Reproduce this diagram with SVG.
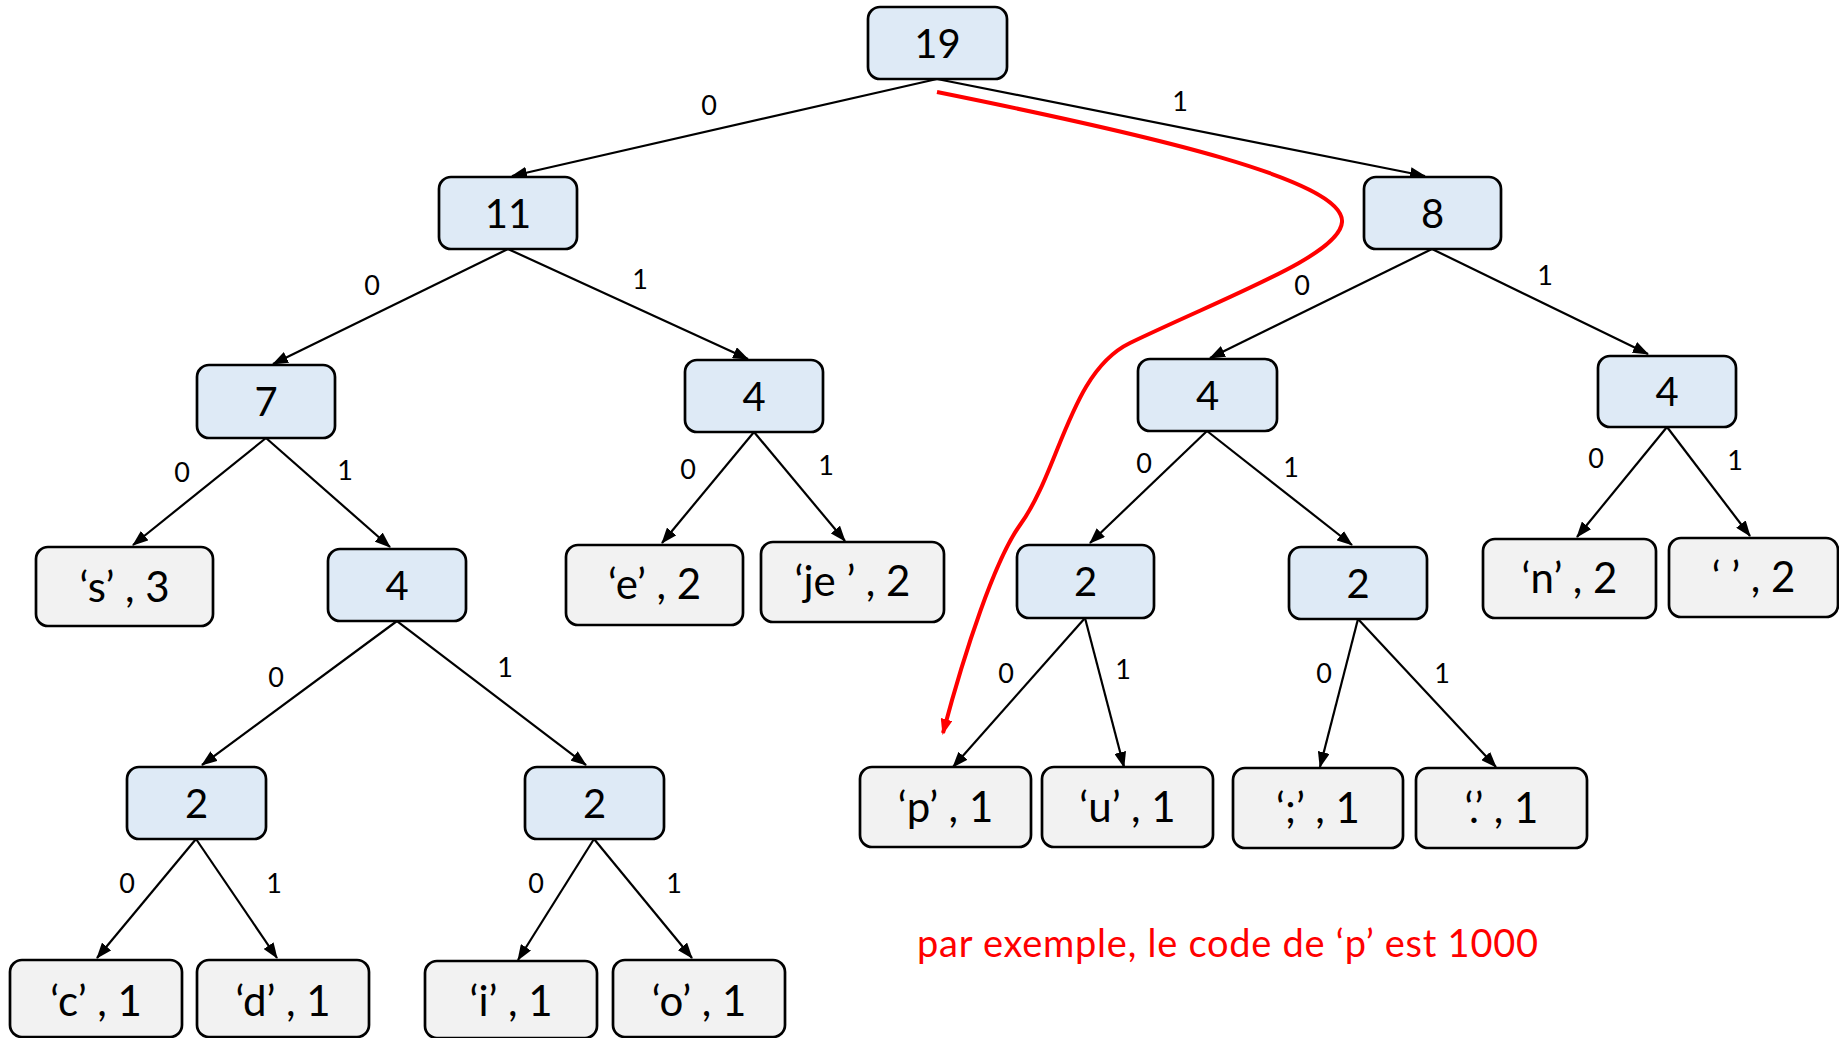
<svg xmlns="http://www.w3.org/2000/svg" width="1839" height="1038" viewBox="0 0 1839 1038">
<style>
.n rect{fill:#DEEAF6;stroke:#000;stroke-width:2.7}
.l rect{fill:#F2F2F2;stroke:#000;stroke-width:2.7}
.n text,.l text{font-family:Lato,"Open Sans",sans-serif;font-size:40px;fill:#000;text-anchor:middle}
.l text{font-size:42px}
.e line{stroke:#000;stroke-width:2.2;marker-end:url(#ah)}
.e text{font-family:Lato,"Open Sans",sans-serif;font-size:27px;fill:#000;text-anchor:middle}
.red{fill:none;stroke:#FF0000;stroke-width:4;marker-end:url(#rh)}
.note{font-family:Lato,"Open Sans",sans-serif;font-size:38px;fill:#FF0000}
</style>
<defs>
<marker id="ah" markerWidth="16" markerHeight="12" refX="15" refY="6" orient="auto" markerUnits="userSpaceOnUse"><path d="M0,0 L16,6 L0,12 z" fill="#000"/></marker>
<marker id="rh" markerWidth="16" markerHeight="12" refX="14" refY="6" orient="auto" markerUnits="userSpaceOnUse"><path d="M0,0 L16,6 L0,12 z" fill="#FF0000"/></marker>
</defs>
<rect width="1839" height="1038" fill="#fff"/>
<g id="connectors" class="e">
<line x1="937" y1="79" x2="512" y2="176"/><text x="709" y="115">0</text>
<line x1="937" y1="79" x2="1425" y2="176"/><text x="1180" y="111">1</text>
<line x1="508" y1="249" x2="273" y2="364"/><text x="372" y="295">0</text>
<line x1="508" y1="249" x2="748" y2="359"/><text x="640" y="289">1</text>
<line x1="1432" y1="249" x2="1210" y2="358"/><text x="1302" y="295">0</text>
<line x1="1432" y1="249" x2="1648" y2="354"/><text x="1545" y="285">1</text>
<line x1="266" y1="438" x2="133" y2="545"/><text x="182" y="482">0</text>
<line x1="266" y1="438" x2="390" y2="547"/><text x="345" y="480">1</text>
<line x1="754" y1="432" x2="662" y2="543"/><text x="688" y="479">0</text>
<line x1="754" y1="432" x2="845" y2="541"/><text x="826" y="475">1</text>
<line x1="1207" y1="431" x2="1090" y2="543"/><text x="1144" y="473">0</text>
<line x1="1207" y1="431" x2="1352" y2="545"/><text x="1291" y="477">1</text>
<line x1="1667" y1="427" x2="1577" y2="537"/><text x="1596" y="468">0</text>
<line x1="1667" y1="427" x2="1750" y2="536"/><text x="1735" y="470">1</text>
<line x1="397" y1="621" x2="202" y2="765"/><text x="276" y="687">0</text>
<line x1="397" y1="621" x2="586" y2="765"/><text x="505" y="677">1</text>
<line x1="1085" y1="618" x2="953" y2="767"/><text x="1006" y="683">0</text>
<line x1="1085" y1="618" x2="1124" y2="767"/><text x="1123" y="679">1</text>
<line x1="1358" y1="619" x2="1320" y2="767"/><text x="1324" y="683">0</text>
<line x1="1358" y1="619" x2="1496" y2="767"/><text x="1442" y="683">1</text>
<line x1="196" y1="839" x2="97" y2="958"/><text x="127" y="893">0</text>
<line x1="196" y1="839" x2="277" y2="958"/><text x="274" y="893">1</text>
<line x1="594" y1="839" x2="518" y2="960"/><text x="536" y="893">0</text>
<line x1="594" y1="839" x2="692" y2="958"/><text x="674" y="893">1</text>
</g>
<g id="n19" class="n"><rect x="868" y="7" width="139" height="72" rx="12"/><text x="937.5" y="58">19</text></g>
<g id="n11" class="n"><rect x="439" y="177" width="138" height="72" rx="12"/><text x="508" y="228">11</text></g>
<g id="n8" class="n"><rect x="1364" y="177" width="137" height="72" rx="12"/><text x="1432.5" y="228">8</text></g>
<g id="n7" class="n"><rect x="197" y="365" width="138" height="73" rx="12"/><text x="266" y="416">7</text></g>
<g id="n4a" class="n"><rect x="685" y="360" width="138" height="72" rx="12"/><text x="754" y="411">4</text></g>
<g id="n4b" class="n"><rect x="1138" y="359" width="139" height="72" rx="12"/><text x="1207.5" y="410">4</text></g>
<g id="n4c" class="n"><rect x="1598" y="356" width="138" height="71" rx="12"/><text x="1667" y="406">4</text></g>
<g id="n4d" class="n"><rect x="328" y="549" width="138" height="72" rx="12"/><text x="397" y="600">4</text></g>
<g id="n2a" class="n"><rect x="1017" y="545" width="137" height="73" rx="12"/><text x="1085.5" y="596">2</text></g>
<g id="n2b" class="n"><rect x="1289" y="547" width="138" height="72" rx="12"/><text x="1358" y="598">2</text></g>
<g id="n2c" class="n"><rect x="127" y="767" width="139" height="72" rx="12"/><text x="196.5" y="818">2</text></g>
<g id="n2d" class="n"><rect x="525" y="767" width="139" height="72" rx="12"/><text x="594.5" y="818">2</text></g>
<g id="ls" class="l"><rect x="36" y="547" width="177" height="79" rx="12"/><text x="124.5" y="602">‘s’ , 3</text></g>
<g id="le" class="l"><rect x="566" y="545" width="177" height="80" rx="12"/><text x="654.5" y="599">‘e’ , 2</text></g>
<g id="lje" class="l"><rect x="761" y="542" width="183" height="80" rx="12"/><text x="852.5" y="596">‘je ’ , 2</text></g>
<g id="ln" class="l"><rect x="1483" y="539" width="173" height="79" rx="12"/><text x="1569.5" y="593">‘n’ , 2</text></g>
<g id="lsp" class="l"><rect x="1669" y="538" width="169" height="79" rx="12"/><text x="1753.5" y="592">‘ ’ , 2</text></g>
<g id="lp" class="l"><rect x="860" y="767" width="171" height="80" rx="12"/><text x="945.5" y="822">‘p’ , 1</text></g>
<g id="lu" class="l"><rect x="1042" y="767" width="171" height="80" rx="12"/><text x="1127.5" y="822">‘u’ , 1</text></g>
<g id="lsemi" class="l"><rect x="1233" y="768" width="170" height="80" rx="12"/><text x="1318" y="823">‘;’ , 1</text></g>
<g id="ldot" class="l"><rect x="1416" y="768" width="171" height="80" rx="12"/><text x="1501.5" y="823">‘.’ , 1</text></g>
<g id="lc" class="l"><rect x="10" y="960" width="172" height="77" rx="12"/><text x="96" y="1016">‘c’ , 1</text></g>
<g id="ld" class="l"><rect x="197" y="960" width="172" height="77" rx="12"/><text x="283" y="1016">‘d’ , 1</text></g>
<g id="li" class="l"><rect x="425" y="961" width="172" height="77" rx="12"/><text x="511" y="1016">‘i’ , 1</text></g>
<g id="lo" class="l"><rect x="613" y="960" width="172" height="77" rx="12"/><text x="699" y="1016">‘o’ , 1</text></g>
<g id="path-p">
<path class="red" d="M937,92 C1150,135 1345,180 1342,222 C1340,255 1230,295 1130,343 C1070,372 1060,470 1020,525 C995,560 965,650 943,733"/>
<text class="note" x="917" y="957" textLength="621" lengthAdjust="spacing">par exemple, le code de ‘p’ est 1000</text>
</g>
</svg>
